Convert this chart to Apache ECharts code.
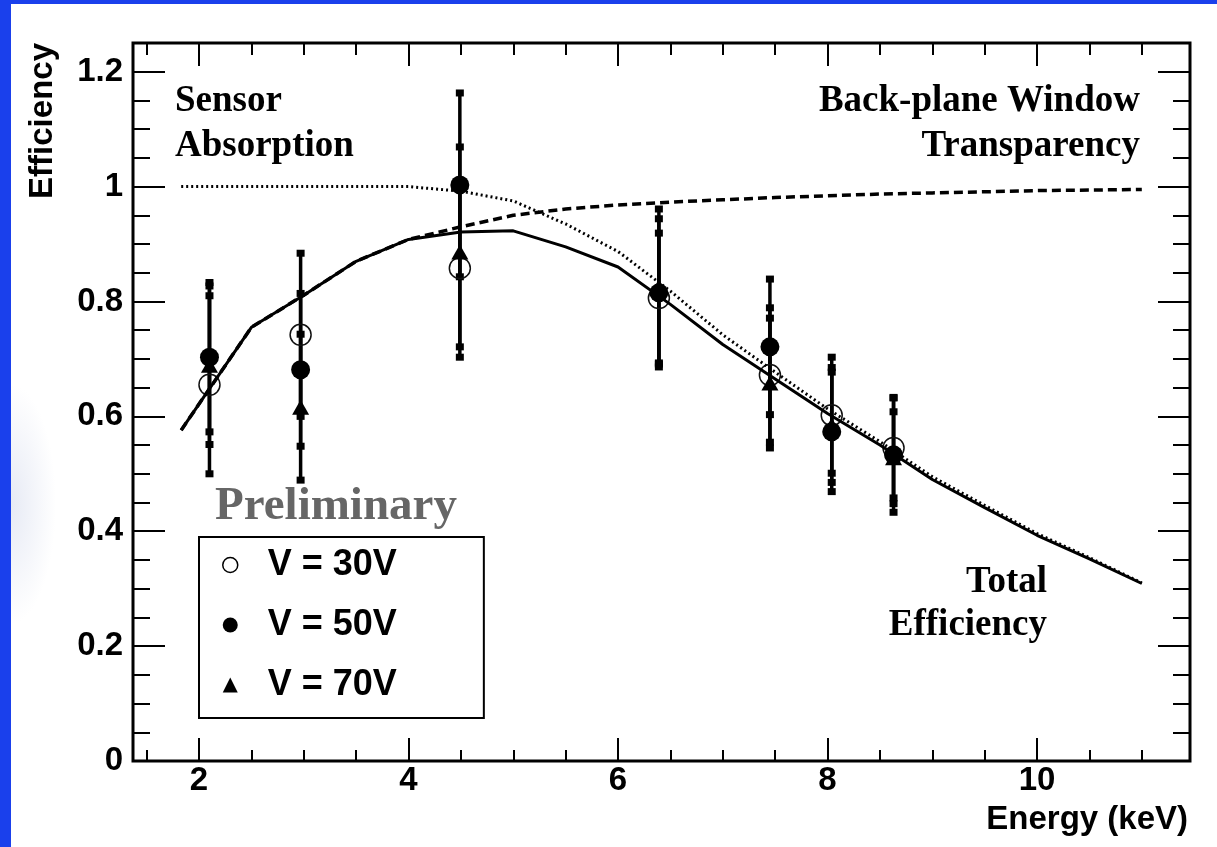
<!DOCTYPE html>
<html>
<head>
<meta charset="utf-8">
<title>Efficiency vs Energy</title>
<script src="https://cdn.jsdelivr.net/npm/echarts@6/dist/echarts.min.js"></script>
<style>
html, body { margin: 0; padding: 0; background: #1a40ec; }
#panel {
    position: absolute; left: 11px; top: 4px; width: 1206px; height: 843px;
    background: radial-gradient(ellipse 45px 120px at 0px 500px, rgba(185,195,225,0.35), rgba(255,255,255,0)), #fff;
}
#main { position: absolute; left: 0; top: 0; width: 1217px; height: 847px; }
</style>
</head>
<body>
<div id="panel"></div>
<div id="main"></div>
<script>
// measured energies (keV)
var energies = [2.1, 2.97, 4.49, 6.39, 7.45, 8.04, 8.63];
// efficiency and errors per bias voltage
var eff30 = [0.655, 0.742, 0.858, 0.806, 0.672, 0.602, 0.545];
var err30 = [0.155, 0.142, 0.137, 0.113, 0.117, 0.101, 0.087];
var eff50 = [0.703, 0.681, 1.003, 0.815, 0.721, 0.573, 0.533];
var err50 = [0.130, 0.133, 0.160, 0.129, 0.118, 0.104, 0.100];
var eff70 = [0.689, 0.616, 0.886, 0.826, 0.658, 0.585, 0.528];
var err70 = [0.138, 0.127, 0.183, 0.135, 0.113, 0.100, 0.080];

// model curves
var curveE       = [1.83, 2.5, 3.0, 3.5, 4.0, 4.5, 5.0, 5.5, 6.0, 6.5, 7.0, 7.5, 8.0, 8.5, 9.0, 9.5, 10.0, 10.5, 11.0];
var absorption   = [1.0, 1.0, 1.0, 1.0, 1.0, 0.992, 0.975, 0.935, 0.887, 0.818, 0.742, 0.677, 0.613, 0.556, 0.495, 0.445, 0.396, 0.354, 0.310];
var transparency = [0.576, 0.755, 0.811, 0.870, 0.908, 0.930, 0.950, 0.961, 0.968, 0.973, 0.977, 0.981, 0.984, 0.987, 0.989, 0.991, 0.993, 0.994, 0.995];
var total        = [0.576, 0.755, 0.811, 0.870, 0.908, 0.921, 0.923, 0.895, 0.860, 0.795, 0.725, 0.665, 0.605, 0.550, 0.490, 0.441, 0.393, 0.352, 0.309];

// ticks
var xMajor = [2, 4, 6, 8, 10];
var xMinor = [1.5, 2.5, 3, 3.5, 4.5, 5, 5.5, 6.5, 7, 7.5, 8.5, 9, 9.5, 10.5, 11];
var yMajor = [0, 0.2, 0.4, 0.6, 0.8, 1, 1.2];
var yMinor = [0.05, 0.1, 0.15, 0.25, 0.3, 0.35, 0.45, 0.5, 0.55, 0.65, 0.7, 0.75,
              0.85, 0.9, 0.95, 1.05, 1.1, 1.15];

var names = ['V = 30V', 'V = 50V', 'V = 70V'];

var myChart = echarts.init(document.getElementById('main'));

function pairs(xs, ys) {
    return xs.map(function (x, i) { return [x, ys[i]]; });
}
function bars(ys, es) {
    return energies.map(function (x, i) { return [x, ys[i] - es[i], ys[i] + es[i]]; });
}

function errRender(params, api) {
    var x = api.value(0);
    var a = api.coord([x, api.value(2)]);
    var b = api.coord([x, api.value(1)]);
    return {
        type: 'group',
        children: [
            {type: 'line', shape: {x1: a[0], y1: a[1], x2: b[0], y2: b[1]}, style: {stroke: '#000', lineWidth: 3.5}},
            {type: 'rect', shape: {x: a[0] - 4, y: a[1] - 3.5, width: 8, height: 7}, style: {fill: '#000'}},
            {type: 'rect', shape: {x: b[0] - 4, y: b[1] - 3.5, width: 8, height: 7}, style: {fill: '#000'}}
        ]
    };
}

var tickFont = {fontFamily: 'Liberation Sans', fontWeight: 'bold', fontSize: 33, color: '#000'};
var X0 = 1.37, X1 = 11.46, Y0 = 0, Y1 = 1.25;

function xAx(pos, vals, len, labels) {
    return {
        type: 'value', position: pos, offset: 0, min: X0, max: X1,
        axisLine: {show: false, onZero: false}, splitLine: {show: false},
        axisTick: {show: true, inside: true, length: len, customValues: vals, lineStyle: {color: '#000', width: 2}},
        axisLabel: labels ? Object.assign({show: true, margin: 3, customValues: vals}, tickFont) : {show: false}
    };
}
function yAx(pos, vals, len, labels) {
    return {
        type: 'value', position: pos, offset: 0, min: Y0, max: Y1,
        axisLine: {show: false, onZero: false}, splitLine: {show: false},
        axisTick: {show: true, inside: true, length: len, customValues: vals, lineStyle: {color: '#000', width: 2}},
        axisLabel: labels ? Object.assign({show: true, margin: 10, customValues: vals}, tickFont) : {show: false}
    };
}

var serif = 'Liberation Serif';

myChart.setOption({
    animation: false,
    grid: {left: 133, top: 43, right: 27, bottom: 86, show: true, borderColor: '#000', borderWidth: 3, backgroundColor: 'transparent'},
    xAxis: [
        xAx('bottom', xMajor, 23, true),
        xAx('bottom', xMinor, 11, false),
        xAx('top', xMajor, 23, false),
        xAx('top', xMinor, 12, false)
    ],
    yAxis: [
        yAx('left', yMajor, 32, true),
        yAx('left', yMinor, 17, false),
        yAx('right', yMajor, 32, false),
        yAx('right', yMinor, 17, false)
    ],
    legend: {
        orient: 'vertical', left: 199, top: 537,
        padding: [8, 87, 13, 23], itemGap: 20, itemWidth: 15, itemHeight: 15,
        borderColor: '#000', borderWidth: 2, borderRadius: 0, backgroundColor: '#fff',
        selectedMode: false,
        textStyle: {fontFamily: 'Liberation Sans', fontWeight: 'bold', fontSize: 36, lineHeight: 40, color: '#000', padding: [0, 0, 0, 25]},
        data: [
            {name: names[0], icon: 'circle', itemStyle: {color: '#fff', borderColor: '#000', borderWidth: 1.5, opacity: 1}},
            {name: names[1], icon: 'circle', itemStyle: {color: '#000', opacity: 1}},
            {name: names[2], icon: 'triangle', itemStyle: {color: '#000', opacity: 1}}
        ]
    },
    graphic: [
        {type: 'text', x: 43, y: 43, rotation: Math.PI / 2,
         style: {text: 'Efficiency', fontFamily: 'Liberation Sans', fontWeight: 'bold', fontSize: 33, fill: '#000', align: 'right', verticalAlign: 'middle'}},
        {type: 'text', x: 1188, y: 820,
         style: {text: 'Energy (keV)', fontFamily: 'Liberation Sans', fontWeight: 'bold', fontSize: 33, fill: '#000', align: 'right', verticalAlign: 'middle'}},
        {type: 'text', x: 175, y: 123.5,
         style: {text: 'Sensor\nAbsorption', fontFamily: serif, fontWeight: 'bold', fontSize: 37, lineHeight: 45, fill: '#000', align: 'left', verticalAlign: 'middle'}},
        {type: 'text', x: 1140, y: 123.5,
         style: {text: 'Back-plane Window\nTransparency', fontFamily: serif, fontWeight: 'bold', fontSize: 37, lineHeight: 45, fill: '#000', align: 'right', verticalAlign: 'middle'}},
        {type: 'text', x: 1047, y: 603.5,
         style: {text: 'Total\nEfficiency', fontFamily: serif, fontWeight: 'bold', fontSize: 37, lineHeight: 43, fill: '#000', align: 'right', verticalAlign: 'middle'}},
        {type: 'text', x: 215, y: 507,
         style: {text: 'Preliminary', fontFamily: serif, fontWeight: 'bold', fontSize: 47, fill: '#666', align: 'left', verticalAlign: 'middle'}}
    ],
    series: [
        {name: 'Sensor Absorption', type: 'line', data: pairs(curveE, absorption), symbol: 'none', silent: true,
         lineStyle: {color: '#000', width: 3, type: [2, 3]}},
        {name: 'Back-plane Window Transparency', type: 'line', data: pairs(curveE, transparency), symbol: 'none', silent: true,
         lineStyle: {color: '#000', width: 3.5, type: [9, 5]}},
        {name: 'Total Efficiency', type: 'line', data: pairs(curveE, total), symbol: 'none', silent: true,
         lineStyle: {color: '#000', width: 3}},
        {name: 'err30', type: 'custom', renderItem: errRender, data: bars(eff30, err30), encode: {x: 0, y: [1, 2]}},
        {name: names[0], type: 'scatter', data: pairs(energies, eff30), symbol: 'circle', symbolSize: 21,
         itemStyle: {color: 'rgba(0,0,0,0)', borderColor: '#111', borderWidth: 1.5, opacity: 1}},
        {name: 'err50', type: 'custom', renderItem: errRender, data: bars(eff50, err50), encode: {x: 0, y: [1, 2]}},
        {name: names[1], type: 'scatter', data: pairs(energies, eff50), symbol: 'circle', symbolSize: 19,
         itemStyle: {color: '#000', opacity: 1}},
        {name: 'err70', type: 'custom', renderItem: errRender, data: bars(eff70, err70), encode: {x: 0, y: [1, 2]}},
        {name: names[2], type: 'scatter', data: pairs(energies, eff70), symbol: 'triangle', symbolSize: [17, 15],
         itemStyle: {color: '#000', opacity: 1}}
    ]
});
</script>
</body>
</html>
